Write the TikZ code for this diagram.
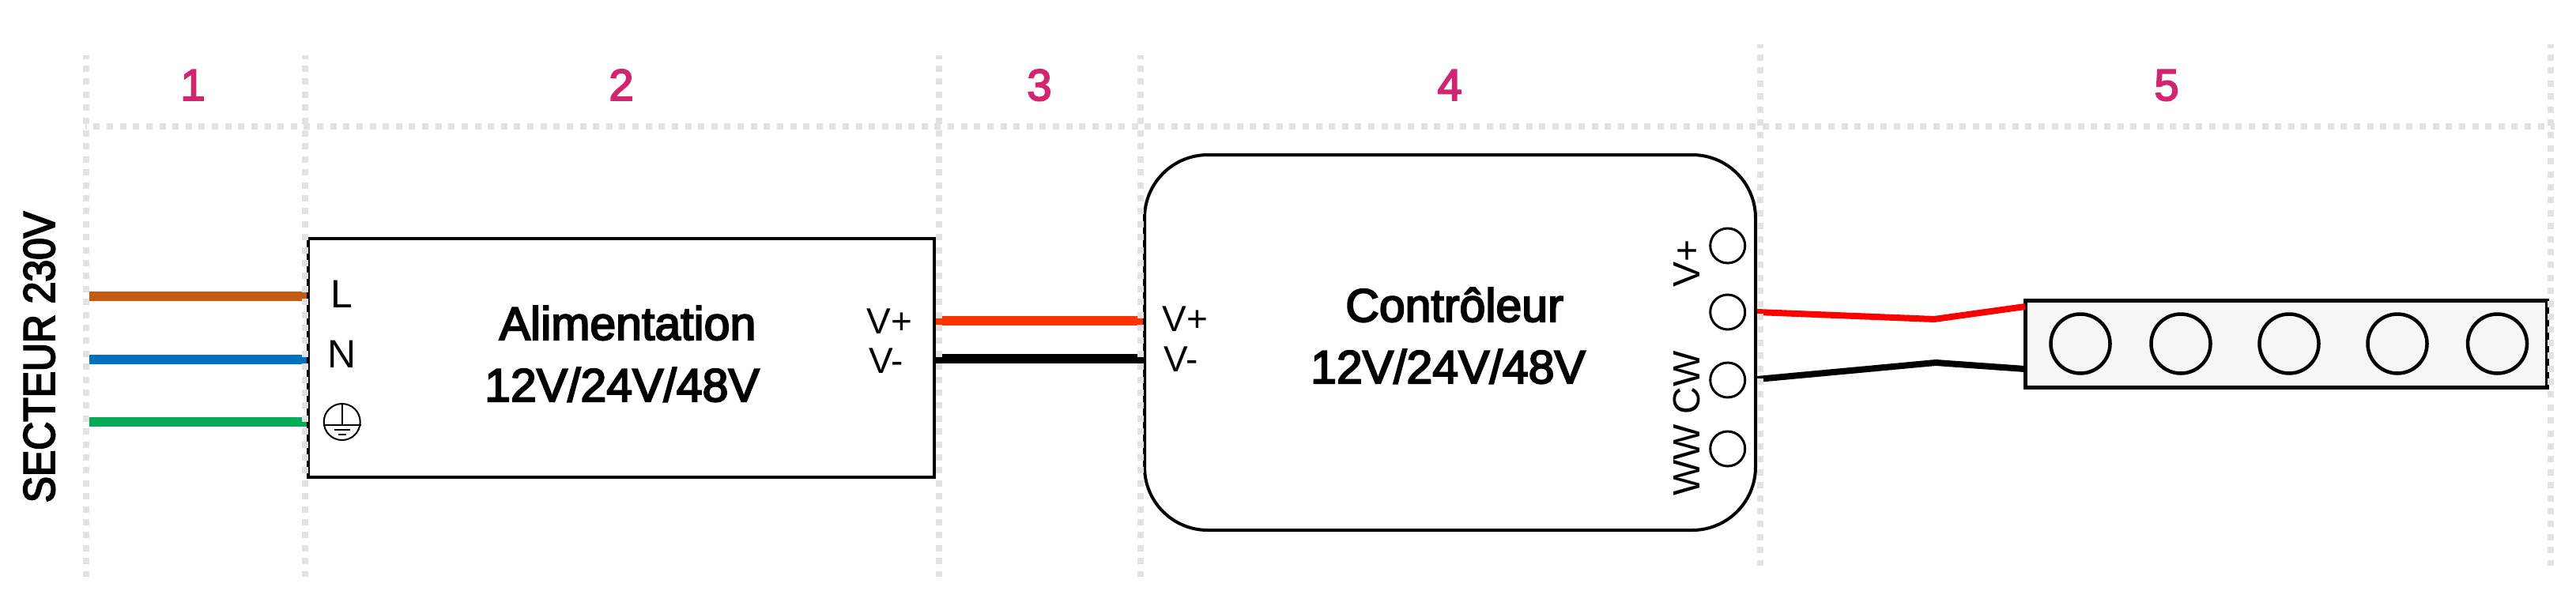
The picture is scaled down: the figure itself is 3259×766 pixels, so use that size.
\documentclass[tikz,border=0pt]{standalone}
\usepackage{fontspec}
\setmainfont{Liberation Sans}
\newfontfamily\medfont[FakeBold=3.5]{Liberation Sans}
\newfontfamily\secfont[FakeBold=3.5,FakeStretch=0.89]{Liberation Sans}
\definecolor{numcol}{HTML}{D1256F}
\definecolor{dotcol}{HTML}{E2E2E2}
\definecolor{wireorange}{HTML}{C55A11}
\definecolor{wireblue}{HTML}{0070C0}
\definecolor{wiregreen}{HTML}{05AB57}
\definecolor{wirered}{HTML}{FF3300}
\definecolor{stripfill}{HTML}{F6F6F6}
\tikzset{
  guide/.style={draw=dotcol,line width=8pt,dash pattern=on 8pt off 8.4pt,dash phase=3.4pt},
  hguide/.style={draw=dotcol,line width=8pt,dash pattern=on 8pt off 8.625pt,dash phase=6.2pt},
  powerwire/.style={line width=12.5pt},
  ledwire/.style={line width=8pt,line join=miter},
  num/.style={inner sep=0pt,anchor=base,text=numcol,font=\fontsize{56}{56}\selectfont\medfont},
  title/.style={inner sep=0pt,anchor=base,font=\fontsize{59}{59}\selectfont\medfont},
  sectitle/.style={inner sep=0pt,anchor=base,font=\fontsize{56}{56}\selectfont\secfont},
  term/.style={inner sep=0pt,anchor=base,font=\fontsize{46}{46}\selectfont},
  sideterm/.style={inner sep=0pt,anchor=base,font=\fontsize{48}{48}\selectfont},
  bigterm/.style={inner sep=0pt,anchor=base,font=\fontsize{50}{50}\selectfont},
  hole/.style={circle,draw,line width=3pt,minimum size=44pt,inner sep=0pt},
  led/.style={circle,draw,line width=4.5pt,minimum size=75pt,inner sep=0pt},
}
\begin{document}
\begin{tikzpicture}[x=1pt,y=-1pt]
\useasboundingbox (0,0) rectangle (3259,766);
% boxes
\node[draw,line width=4.5pt,minimum width=792pt,minimum height=302pt,inner sep=0pt] (alim) at (786,453) {};
\node[draw,line width=4pt,rounded corners=80pt,minimum width=773pt,minimum height=475pt,inner sep=0pt] (ctrl) at (1834.5,433.5) {};
\node[draw,fill=stripfill,line width=4.5pt,minimum width=660pt,minimum height=110pt,inner sep=0pt] (strip) at (2892.5,435.5) {};
% wires
\coordinate (orange0) at (113,375);
\coordinate (blue0) at (113,455);
\coordinate (green0) at (113,534);
\draw[powerwire,wireorange] (orange0) -- (orange0 -| alim.west);
\draw[powerwire,wireblue] (blue0) -- (blue0 -| alim.west);
\draw[powerwire,wiregreen] (green0) -- (green0 -| alim.west);
\coordinate (vp) at (alim.east |- 0,406);
\coordinate (vm) at (alim.east |- 0,454);
\draw[powerwire,wirered] (vp) -- (vp -| ctrl.west);
\draw[powerwire,black] (vm) -- (vm -| ctrl.west);
% holes
\node[hole] (h1) at (2185.7,311) {};
\node[hole] (h2) at (2185.7,395) {};
\node[hole] (h3) at (2185.7,481) {};
\node[hole] (h4) at (2185.7,568) {};
% led wires
\coordinate (r0) at (2223,395);
\coordinate (b0) at (2223,480);
\coordinate (rk) at (2447,404);
\coordinate (bk) at (2449,459);
\coordinate (rs) at (2562,388);
\coordinate (bs) at (2562,467);
\draw[ledwire,red] (r0) -- (rk) -- (rs);
\draw[ledwire,black] (b0) -- (bk) -- (bs);
% leds
\node[led] (l1) at (2632,435) {};
\node[led] (l2) at (2759,435) {};
\node[led] (l3) at (2896,435) {};
\node[led] (l4) at (3033,435) {};
\node[led] (l5) at (3159.5,435) {};
% guides
\coordinate (g1t) at (108.5,70); \coordinate (g1b) at (108.5,730);
\coordinate (g2t) at (386,70); \coordinate (g2b) at (386,730);
\coordinate (g3t) at (1188,70); \coordinate (g3b) at (1188,730);
\coordinate (g4t) at (1442.5,70); \coordinate (g4b) at (1442.5,730);
\coordinate (g5t) at (2227,56); \coordinate (g5b) at (2227,716);
\coordinate (g6t) at (3227,56); \coordinate (g6b) at (3227,716);
\coordinate (hl) at (108,160); \coordinate (hr) at (3232,160);
\draw[guide] (g1t) -- (g1b);
\draw[guide] (g2t) -- (g2b);
\draw[guide] (g3t) -- (g3b);
\draw[guide] (g4t) -- (g4b);
\draw[guide] (g5t) -- (g5b);
\draw[guide] (g6t) -- (g6b);
\draw[hguide] (hl) -- (hr);
% numbers
\node[num] (n1) at (244,127) {1};
\node[num] (n2) at (786,127) {2};
\node[num] (n3) at (1315,127) {3};
\node[num] (n4) at (1834,127) {4};
\node[num] (n5) at (2741,127) {5};
% texts
\node[sectitle,rotate=90] (sect) at (69,452) {SECTEUR 230V};
\node[bigterm] (tl) at (432.6,389) {L};
\node[bigterm] (tn) at (433,465) {N};
\node[title] (a1) at (794,430) {Alimentation};
\node[title] (a2) at (787,508) {12V/24V/48V};
\node[term] (vpa) at (1125.5,422) {V+};
\node[term] (vma) at (1121,472) {V-};
\node[term] (vpc) at (1499.5,419) {V+};
\node[term] (vmc) at (1494,470) {V-};
\node[title] (c1) at (1840,407) {Contrôleur};
\node[title] (c2) at (1832,485) {12V/24V/48V};
\node[sideterm,rotate=90] (rv) at (2150,333.5) {V+};
\node[sideterm,rotate=90] (rw) at (2150,536) {WW CW};
% earth symbol
\node[circle,draw,line width=2pt,minimum size=46pt,inner sep=0pt] (earth) at (432.7,534) {};
\draw[line width=2pt] (earth.north) -- (earth.center |- 0,538);
\draw[line width=2pt] (earth.west |- 0,538) -- (earth.east |- 0,538);
\draw[line width=2pt] (422.7,543.5) -- (443,543.5);
\draw[line width=2pt] (427.7,550) -- (438,550);
\end{tikzpicture}
\end{document}
